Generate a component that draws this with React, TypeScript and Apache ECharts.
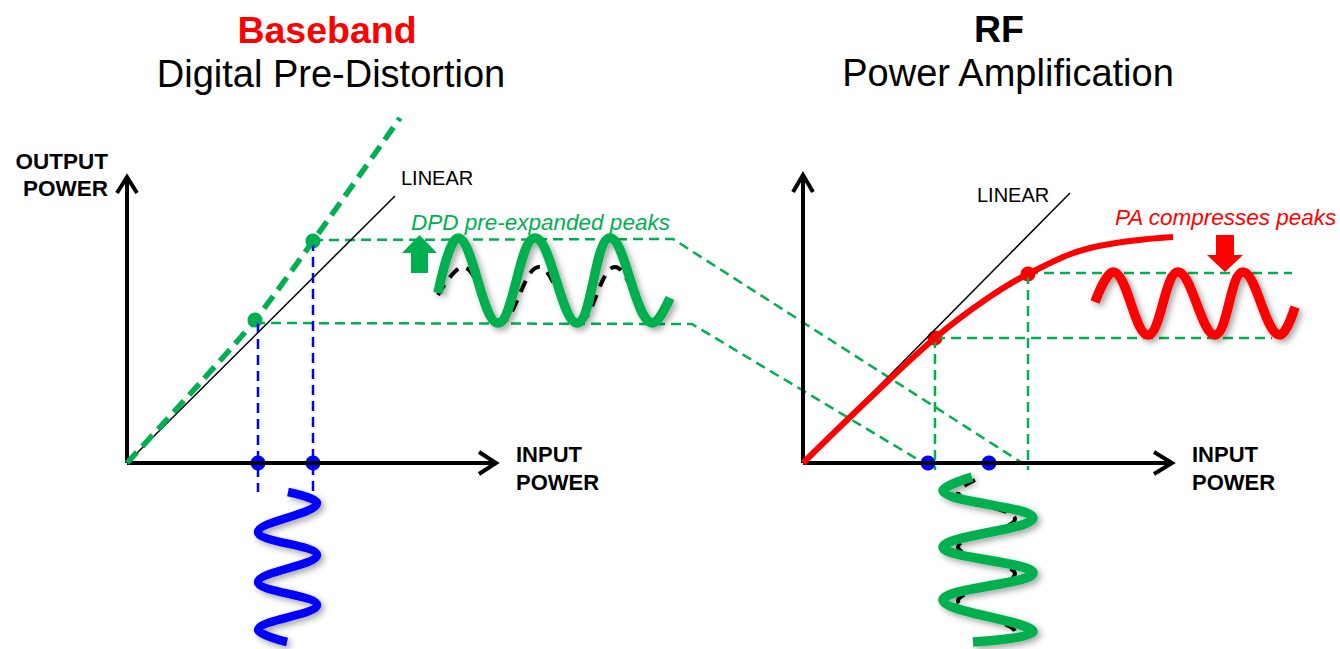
import React, { useEffect, useRef } from "react";
import * as echarts from "echarts";

// ---- Diagram data (page coordinate system: x 0..1340, y 0..649 downward) ----
const leftYAxis = [[127, 463], [127, 178]];
const leftXAxis = [[127, 463], [495, 463]];
const rightYAxis = [[803, 463], [803, 176]];
const rightXAxis = [[803, 463], [1171, 463]];
const leftYHead = [[117, 193], [127, 177], [137, 193]];
const leftXHead = [[479, 452], [496, 463], [479, 474]];
const rightYHead = [[793, 192], [803, 175], [813, 192]];
const rightXHead = [[1154, 452], [1172, 463], [1154, 474]];

const leftLinear = [[127, 463], [395, 196]];
const rightLinear = [[803, 463], [1070, 193]];
const dpdCurve = [[127, 463], [200, 383], [255, 320], [313, 241], [400, 118]];
const paCurve = [[803, 463], [870, 398], [935, 338], [985, 300], [1028, 274], [1090, 248], [1173, 237]];

const greenGuides = [
  [[313, 240], [673, 239], [1027, 466]],
  [[255, 323], [692, 324], [922, 462]],
  [[935, 338], [935, 470]],
  [[1028, 274], [1028, 470]],
  [[935, 338], [1272, 338]],
  [[1028, 273], [1292, 273]],
];
const blueGuides = [
  [[258, 323], [258, 492]],
  [[313, 241], [313, 492]],
];

const greenDots = [[255, 320], [313, 241]];
const blueDots = [[258, 463], [313, 463], [928, 463], [989, 463]];
const redDots = [[935, 338], [1028, 274]];

const dpdWave = [[438, 293], [458, 238], [498, 323], [535, 238], [577, 323], [610, 238], [653, 323], [670, 298]];
const linearWaveLeft = [[438, 295], [463, 267], [500, 323], [539, 267], [578, 323], [615, 267], [653, 323], [670, 300]];
const paWave = [[1095, 302], [1113, 272], [1148, 335], [1178, 272], [1215, 335], [1243, 272], [1280, 335], [1295, 307]];
const inputWave = [[288, 492], [317, 503], [258, 532], [317, 555], [258, 582], [317, 605], [258, 630], [287, 642]];
const rfInputWave = [[972, 477], [943, 490], [1033, 518], [943, 547], [1033, 573], [943, 600], [1033, 632], [973, 642]];
const linearWaveRight = [[975, 480], [958, 492], [1015, 519], [958, 547], [1015, 574], [958, 601], [1015, 632], [975, 642]];

const upArrow = [[419.5, 254]];
const downArrow = [[1225, 253.5]];

const GREEN = "#00B050";
const RED = "#FF0000";
const BLUE = "#0000FF";
const FONT = "'Liberation Sans', Arial, sans-serif";

const line = (data: number[][], color: string, width: number, extra: any = {}) => ({
  type: "line",
  data,
  symbol: "none",
  silent: true,
  smooth: extra.smooth ?? false,
  lineStyle: {
    color,
    width,
    type: extra.dash ?? "solid",
    cap: extra.cap ?? "butt",
    join: extra.join ?? "miter",
    ...(extra.shadow
      ? { shadowBlur: 6, shadowColor: "rgba(0,0,0,0.35)", shadowOffsetX: 3, shadowOffsetY: 3 }
      : {}),
  },
});

const dots = (data: number[][], color: string) => ({
  type: "scatter",
  data,
  symbol: "circle",
  symbolSize: 15,
  silent: true,
  itemStyle: { color, opacity: 1 },
});

const txt = (text: string, x: number, y: number, size: number, color: string, align: string, weight = "normal", style = "normal") => ({
  type: "text",
  x,
  y,
  silent: true,
  style: {
    text,
    fill: color,
    font: `${style} ${weight} ${size}px ${FONT}`,
    textAlign: align,
    textVerticalAlign: "middle",
  },
});

export default function App() {
  const ref = useRef<HTMLDivElement>(null);
  useEffect(() => {
    if (!ref.current) return;
    const chart = echarts.init(ref.current, undefined, { renderer: "svg" });
    const series: any[] = [
      ...greenGuides.map((g) => line(g, GREEN, 2.5, { dash: [10, 6] })),
      ...blueGuides.map((g) => line(g, BLUE, 2.5, { dash: [10, 6] })),
      line(leftLinear, "#000", 1.5),
      line(rightLinear, "#000", 1.5),
      line(leftYAxis, "#000", 4),
      line(leftXAxis, "#000", 4),
      line(rightYAxis, "#000", 4),
      line(rightXAxis, "#000", 4),
      line(leftYHead, "#000", 4),
      line(leftXHead, "#000", 4),
      line(rightYHead, "#000", 4),
      line(rightXHead, "#000", 4),
      line(dpdCurve, GREEN, 5.5, { dash: [15, 8], smooth: 0.3 }),
      line(paCurve, RED, 6, { smooth: 0.4 }),
      line(linearWaveLeft, "#000", 4, { dash: [12, 9], smooth: 0.4 }),
      line(dpdWave, GREEN, 9.5, { smooth: 0.4, shadow: true }),
      line(paWave, RED, 9.5, { smooth: 0.4, shadow: true }),
      line(inputWave, BLUE, 8.5, { smooth: 0.4, shadow: true }),
      line(linearWaveRight, "#000", 4, { dash: [12, 9], smooth: 0.4 }),
      line(rfInputWave, GREEN, 9.5, { smooth: 0.4, shadow: true }),
      dots(greenDots, GREEN),
      dots(blueDots, BLUE),
      dots(redDots, RED),
      {
        type: "scatter",
        data: upArrow,
        symbol: "path://M17.5,0 L35,18 L26,18 L26,38 L9,38 L9,18 L0,18 Z",
        symbolSize: [35, 38],
        silent: true,
        itemStyle: { color: GREEN, opacity: 1 },
      },
      {
        type: "scatter",
        data: downArrow,
        symbol: "path://M9,0 L27,0 L27,20 L36,20 L18,37 L0,20 L9,20 Z",
        symbolSize: [36, 37],
        silent: true,
        itemStyle: { color: RED, opacity: 1 },
      },
    ];
    chart.setOption({
      animation: false,
      backgroundColor: "#fff",
      grid: { left: 0, right: 0, top: 0, bottom: 0 },
      xAxis: { type: "value", min: 0, max: 1340, show: false },
      yAxis: { type: "value", min: 0, max: 649, inverse: true, show: false },
      series,
      graphic: [
        txt("Baseband", 327, 30, 37.5, RED, "center", "bold"),
        txt("Digital Pre-Distortion", 331, 74, 38, "#000", "center"),
        txt("RF", 999, 29, 37.5, "#000", "center", "bold"),
        txt("Power Amplification", 1008, 73, 38, "#000", "center"),
        txt("OUTPUT", 108, 161, 22.5, "#000", "right", "bold"),
        txt("POWER", 108, 188, 22.5, "#000", "right", "bold"),
        txt("INPUT", 516, 454, 22, "#000", "left", "bold"),
        txt("POWER", 516, 482, 22, "#000", "left", "bold"),
        txt("INPUT", 1192, 454, 22, "#000", "left", "bold"),
        txt("POWER", 1192, 482, 22, "#000", "left", "bold"),
        txt("LINEAR", 401, 178, 20, "#000", "left"),
        txt("LINEAR", 977, 195, 20, "#000", "left"),
        txt("DPD pre-expanded peaks", 411, 222, 22.5, GREEN, "left", "normal", "italic"),
        txt("PA compresses peaks", 1115, 217, 22.5, RED, "left", "normal", "italic"),
      ],
    });
    return () => chart.dispose();
  }, []);
  return (
    <div
      ref={ref}
      style={{ position: "absolute", left: 0, top: 0, width: 1340, height: 649, background: "#fff" }}
    />
  );
}
